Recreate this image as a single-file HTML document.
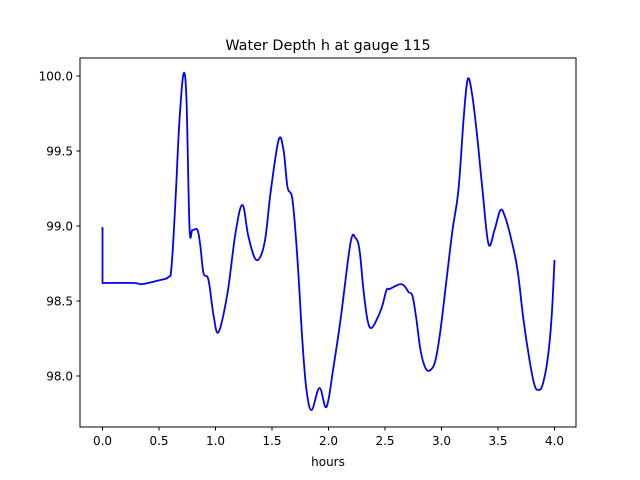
<!DOCTYPE html>
<html><head><meta charset="utf-8"><style>
html,body{margin:0;padding:0;background:#fff;}
svg{display:block;font-family:"DejaVu Sans","Liberation Sans",sans-serif;}
</style></head><body>
<svg id="chart" width="640" height="480">
<rect width="640" height="480" fill="#fff"/>
<text x="328" y="50" font-size="14.4" text-anchor="middle">Water Depth h at gauge 115</text>
<g id="plot"></g>
<rect x="80" y="58" width="496" height="369" fill="none" stroke="#000" stroke-width="1"/>
<text x="328" y="466" font-size="12" text-anchor="middle">hours</text>
</svg>
<script>
const hours=[0,0,0.274,0.354,0.513,0.584,0.611,0.646,0.681,0.717,0.743,0.770,0.796,0.841,0.867,0.894,0.938,0.982,1.027,1.106,1.177,1.239,1.292,1.363,1.434,1.487,1.558,1.602,1.637,1.681,1.726,1.770,1.805,1.850,1.920,1.982,2.044,2.106,2.195,2.239,2.274,2.310,2.345,2.381,2.434,2.478,2.513,2.540,2.593,2.637,2.673,2.708,2.743,2.779,2.814,2.858,2.903,2.947,2.991,3.044,3.097,3.150,3.195,3.230,3.265,3.310,3.363,3.416,3.469,3.522,3.566,3.619,3.673,3.726,3.779,3.823,3.858,3.894,3.938,3.973,4.0];
const depth=[98.993,98.620,98.620,98.613,98.640,98.660,98.727,99.173,99.707,100.013,99.840,98.993,98.973,98.973,98.860,98.687,98.640,98.407,98.293,98.553,98.953,99.140,98.927,98.773,98.887,99.220,99.573,99.507,99.260,99.173,98.773,98.220,97.907,97.773,97.920,97.793,98.060,98.373,98.887,98.920,98.840,98.573,98.373,98.320,98.387,98.473,98.573,98.580,98.600,98.613,98.600,98.560,98.533,98.373,98.173,98.053,98.040,98.107,98.307,98.640,98.973,99.240,99.707,99.973,99.907,99.640,99.240,98.880,98.973,99.107,99.053,98.907,98.707,98.373,98.107,97.940,97.907,97.940,98.107,98.373,98.773];
const xTicks=[0,0.5,1,1.5,2,2.5,3,3.5,4];
const xTickLabels=["0.0","0.5","1.0","1.5","2.0","2.5","3.0","3.5","4.0"];
const yTicks=[98,98.5,99,99.5,100];
const yTickLabels=["98.0","98.5","99.0","99.5","100.0"];
const NS="http://www.w3.org/2000/svg";
const xS=h=>102.5+h*113;
const yS=v=>376-(v-98)*150;
const g=document.getElementById('plot');
xTicks.forEach((t,i)=>{
  const l=document.createElementNS(NS,'line');
  
  
  l.setAttribute('x1',xS(t));l.setAttribute('x2',xS(t));l.setAttribute('y1',427);l.setAttribute('y2',430.5);l.setAttribute('stroke','#000');
  g.appendChild(l);
  const tx=document.createElementNS(NS,'text');
  
  
  tx.setAttribute('x',xS(t));tx.setAttribute('y',445);tx.setAttribute('font-size','12');tx.setAttribute('text-anchor','middle');
  tx.textContent=xTickLabels[i];g.appendChild(tx);
});
yTicks.forEach((t,i)=>{
  const l=document.createElementNS(NS,'line');
  
  
  l.setAttribute('x1',76.5);l.setAttribute('x2',80);l.setAttribute('y1',yS(t));l.setAttribute('y2',yS(t));l.setAttribute('stroke','#000');
  g.appendChild(l);
  const tx=document.createElementNS(NS,'text');
  
  
  tx.setAttribute('x',73);tx.setAttribute('y',yS(t)+4.5);tx.setAttribute('font-size','12');tx.setAttribute('text-anchor','end');
  tx.textContent=yTickLabels[i];g.appendChild(tx);
});
const pts=hours.map((h,i)=>[xS(h),yS(depth[i])]);
let d='M'+pts[0][0].toFixed(1)+','+pts[0][1].toFixed(1);
const k=0.35/2;
for(let i=0;i<pts.length-1;i++){
  const p0=pts[Math.max(0,i-1)],p1=pts[i],p2=pts[i+1],p3=pts[Math.min(pts.length-1,i+2)];
  let c1=[p1[0]+(p2[0]-p0[0])*k,p1[1]+(p2[1]-p0[1])*k];
  let c2=[p2[0]-(p3[0]-p1[0])*k,p2[1]-(p3[1]-p1[1])*k];
  if(i===0){c1=p1;c2=p2;}
  if(i===1){c1=p1;}
  d+=' C'+c1[0].toFixed(1)+','+c1[1].toFixed(1)+' '+c2[0].toFixed(1)+','+c2[1].toFixed(1)+' '+p2[0].toFixed(1)+','+p2[1].toFixed(1);
}
const p=document.createElementNS(NS,'path');


p.setAttribute('d',d);
p.setAttribute('fill','none');p.setAttribute('stroke','#0000ff');p.setAttribute('stroke-width','1.8');p.setAttribute('stroke-linejoin','round');
g.appendChild(p);
</script>
</body></html>
